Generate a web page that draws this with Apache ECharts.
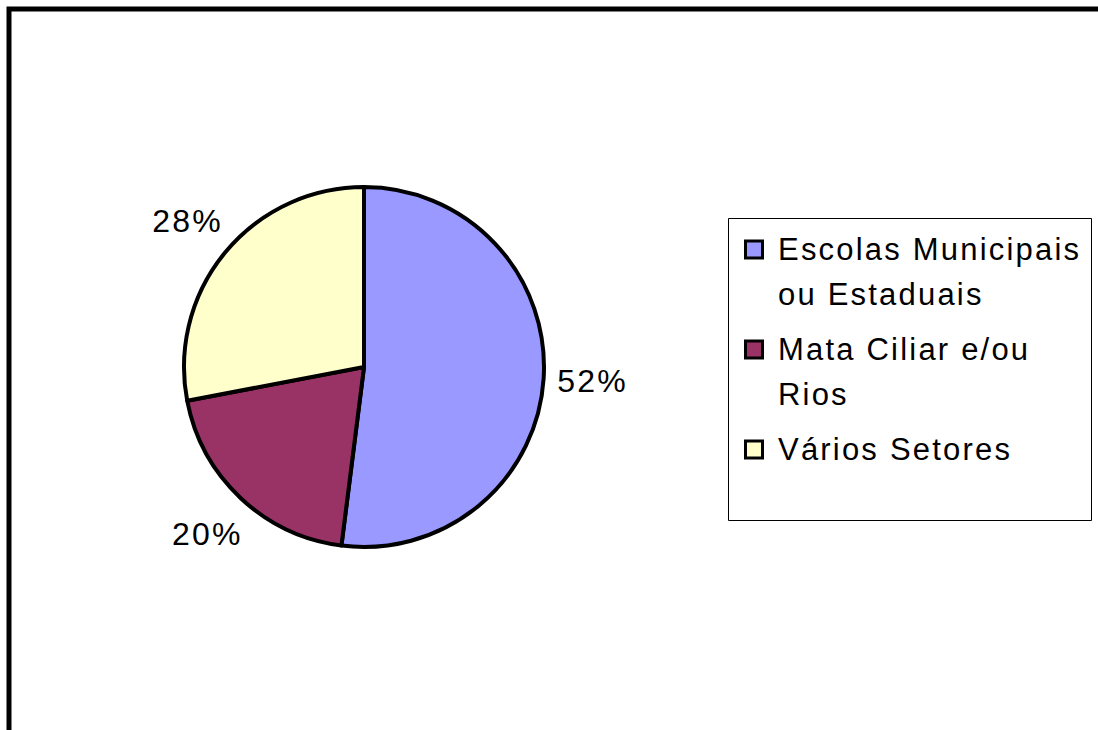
<!DOCTYPE html>
<html>
<head>
<meta charset="utf-8">
<script src="https://cdn.jsdelivr.net/npm/echarts@6/dist/echarts.min.js"></script>
<style>
  html, body { margin: 0; padding: 0; background: #fff; }
  #container1 { width: 1098px; height: 730px; }
  #container1 text { letter-spacing: 2.2px; }
</style>
</head>
<body>
<div id="container1"></div>
<script>
// dados do gráfico
var categories = ['Escolas Municipais\nou Estaduais', 'Mata Ciliar e/ou\nRios', 'Vários Setores'];
var values = [52, 20, 28];
var colors = ['#9999FF', '#993366', '#FFFFCC'];

var font = "'Liberation Sans', Arial, sans-serif";

var dom = document.getElementById("container1");
var myChart = echarts.init(dom, null, { renderer: 'svg' });

function pieData(withColor) {
  return categories.map(function (name, i) {
    var d = { name: name.replace('\n', ' '), value: values[i] };
    if (withColor) d.itemStyle = { color: colors[i] };
    return d;
  });
}

// legenda desenhada a mão (ícone alinhado com a primeira linha)
var legendItems = [];
var itemTop = 227;
categories.forEach(function (name, i) {
  var lines = name.split('\n').length;
  legendItems.push({
    type: 'rect',
    shape: { x: 745.5, y: itemTop + 14, width: 17, height: 17 },
    style: { fill: colors[i], stroke: '#000', lineWidth: 3 }
  });
  legendItems.push({
    type: 'text',
    x: 778,
    y: itemTop,
    style: {
      text: name,
      font: '31px ' + font,
      fill: '#000',
      lineHeight: 45,
      verticalAlign: 'top'
    }
  });
  itemTop += lines * 45 + 10;
});

var option = {
  backgroundColor: '#fff',
  animation: false,
  graphic: [
    {
      type: 'rect',
      shape: { x: 9, y: 9, width: 1200, height: 900 },
      style: { fill: 'none', stroke: '#000', lineWidth: 5 },
      silent: true
    },
    {
      type: 'rect',
      shape: { x: 728.5, y: 218.5, width: 363, height: 302 },
      style: { fill: '#fff', stroke: '#000', lineWidth: 1 },
      silent: true
    }
  ].concat(legendItems),
  series: [
    {
      type: 'pie',
      center: [364, 367],
      radius: 180,
      startAngle: 90,
      clockwise: true,
      silent: true,
      label: { show: false },
      labelLine: { show: false },
      itemStyle: { borderColor: '#000', borderWidth: 4 },
      emphasis: { disabled: true },
      data: pieData(true)
    },
    {
      // anel invisível só para posicionar os rótulos
      type: 'pie',
      center: [364, 367],
      radius: [200, 252],
      startAngle: 90,
      clockwise: true,
      silent: true,
      itemStyle: { color: 'rgba(0,0,0,0)', borderWidth: 0 },
      labelLine: { show: false },
      label: {
        show: true,
        position: 'inside',
        formatter: '{c}%',
        fontSize: 32,
        fontFamily: font,
        color: '#000'
      },
      emphasis: { disabled: true },
      data: pieData(false)
    }
  ]
};
if (option && typeof option === "object") {
  myChart.setOption(option, true);
}
window.addEventListener("resize", () => {
  myChart.resize();
});
</script>
</body>
</html>
